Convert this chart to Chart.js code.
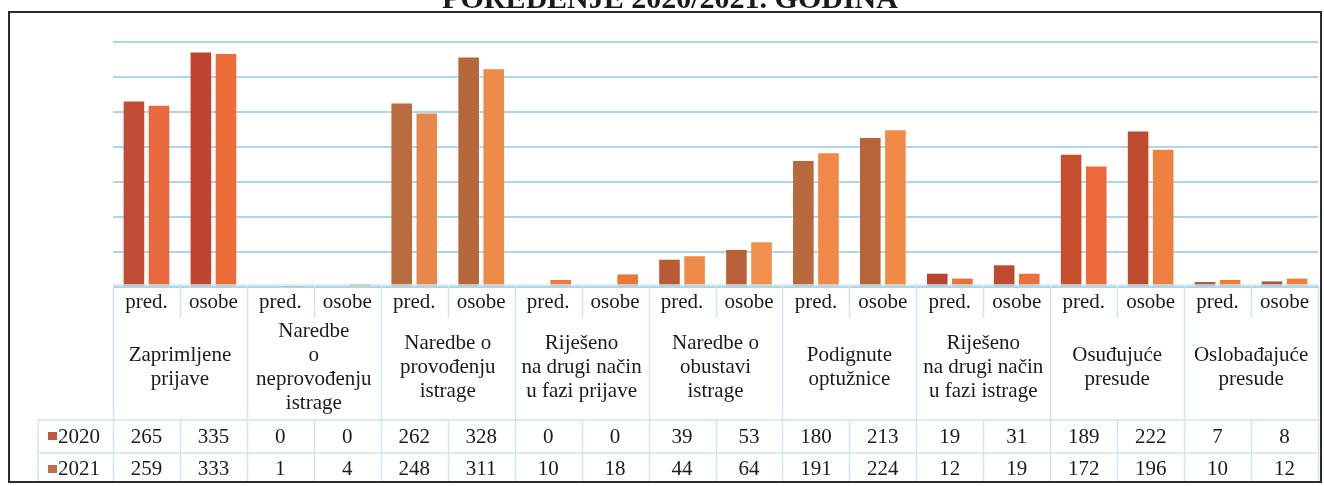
<!DOCTYPE html>
<html>
<head>
<meta charset="utf-8">
<script src="https://cdn.jsdelivr.net/npm/chart.js@4/dist/chart.umd.min.js"></script>
<style>
  html, body { margin: 0; padding: 0; background: #ffffff; }
  #wrap { width: 1324px; height: 486px; }
</style>
</head>
<body>
<div id="wrap"><canvas id="poredjenje"></canvas></div>
<script>
var title = 'POREĐENJE 2020/2021. GODINA';

// kolone: pred. / osobe za svaku grupu
var subLabels = ['pred.', 'osobe', 'pred.', 'osobe', 'pred.', 'osobe', 'pred.', 'osobe', 'pred.', 'osobe',
                 'pred.', 'osobe', 'pred.', 'osobe', 'pred.', 'osobe', 'pred.', 'osobe'];

var groupLabels = [
    ['Zaprimljene', 'prijave'],
    ['Naredbe', 'o', 'neprovođenju', 'istrage'],
    ['Naredbe o', 'provođenju', 'istrage'],
    ['Riješeno', 'na drugi način', 'u fazi prijave'],
    ['Naredbe o', 'obustavi', 'istrage'],
    ['Podignute', 'optužnice'],
    ['Riješeno', 'na drugi način', 'u fazi istrage'],
    ['Osuđujuće', 'presude'],
    ['Oslobađajuće', 'presude']
];

var seriesNames = ['2020', '2021'];
var data2020 = [265, 335, 0, 0, 262, 328, 0, 0, 39, 53, 180, 213, 19, 31, 189, 222, 7, 8];
var data2021 = [259, 333, 1, 4, 248, 311, 10, 18, 44, 64, 191, 224, 12, 19, 172, 196, 10, 12];

// boje stupaca (skenirani original ima malo razlicite nijanse)
var colors2020 = ['#c24c36', '#bf4530', '#b5603a', '#b5603a', '#b86c40', '#b5663a', '#b8603a', '#b8603a', '#b85a35', '#b86038',
                  '#b8693c', '#b8643a', '#b8452e', '#c04a30', '#c64f2e', '#c04a2e', '#a8553a', '#a8553a'];
var colors2021 = ['#e8693e', '#ee6b3a', '#e08040', '#e08040', '#e8874a', '#ee8a48', '#ec7a3a', '#e87a38', '#ee8a4a', '#f0904c',
                  '#f08848', '#f28a48', '#e8703a', '#e8703a', '#ec6a3a', '#ee8040', '#ee7a3a', '#ee803c'];
var legend2020 = '#c0583f';
var legend2021 = '#c86a45';

var serif = '"Liberation Serif", "DejaVu Serif", serif';
var gridBlue = '#a9d8ec';
var tableLine = '#cfe6ef';

// tablica ispod grafa
var tablePlugin = {
    id: 'tablica',
    afterDraw: function(chart) {
	var c = chart.ctx;
	var x = chart.scales.x;
	var area = chart.chartArea;
	var n = subLabels.length;
	var colW = (area.right - area.left) / n;
	var top = area.bottom - 2;
	var rowPredEnd = 318;
	var rowGroupEnd = 420;
	var row1End = 453;
	var bottom = 482;
	var headLeft = 38;

	c.save();
	c.strokeStyle = tableLine;
	c.lineWidth = 1.5;

	// horizontalne linije
	c.beginPath();
	c.moveTo(area.left, top); c.lineTo(area.right, top);
	c.moveTo(headLeft, rowGroupEnd); c.lineTo(area.right, rowGroupEnd);
	c.moveTo(headLeft, row1End); c.lineTo(area.right, row1End);
	c.stroke();

	// vertikalne linije
	c.beginPath();
	c.moveTo(headLeft, rowGroupEnd); c.lineTo(headLeft, bottom);
	for (var i = 0; i <= n; i++) {
	    var lx = Math.round(area.left + i * colW) + 0.5;
	    if (i % 2 === 0) {
		c.moveTo(lx, top); c.lineTo(lx, bottom);
	    } else {
		c.moveTo(lx, top); c.lineTo(lx, rowPredEnd);
		c.moveTo(lx, rowGroupEnd); c.lineTo(lx, bottom);
	    }
	}
	c.stroke();

	c.fillStyle = '#1a1a1a';
	c.textAlign = 'center';
	c.textBaseline = 'middle';
	c.font = '21px ' + serif;

	// pred. / osobe i vrijednosti
	for (var j = 0; j < n; j++) {
	    var cx = x.getPixelForValue(j);
	    c.fillText(subLabels[j], cx, 302);
	    c.fillText(String(data2020[j]), cx, 437);
	    c.fillText(String(data2021[j]), cx, 469);
	}

	// nazivi grupa
	var lh = 24;
	groupLabels.forEach(function(lines, g) {
	    var gx = area.left + (g * 2 + 1) * colW;
	    var y0 = 367 - (lines.length - 1) * lh / 2;
	    lines.forEach(function(t, k) {
		c.fillText(t, gx, y0 + k * lh);
	    });
	});

	// legenda u zaglavlju redova
	c.textAlign = 'left';
	c.fillStyle = legend2020;
	c.fillRect(48, 432, 9, 8);
	c.fillStyle = legend2021;
	c.fillRect(48, 465, 9, 8);
	c.fillStyle = '#1a1a1a';
	c.fillText(seriesNames[0], 58, 437);
	c.fillText(seriesNames[1], 58, 469);

	// okvir
	c.strokeStyle = '#2b2b2b';
	c.lineWidth = 2;
	c.strokeRect(9, 12, 1312, 470);

	// naslov (odrezan na vrhu kao u originalu)
	c.textAlign = 'center';
	c.textBaseline = 'alphabetic';
	c.font = 'bold 30px ' + serif;
	c.fillText(title, 670, 8);
	c.restore();
    }
};

var ctx = document.getElementById('poredjenje');

var chart = new Chart(ctx, {
    type: 'bar',
    data: {
	labels: subLabels,
	datasets: [{
	    label: seriesNames[0],
	    data: data2020,
	    backgroundColor: colors2020,
	    borderWidth: 0
	}, {
	    label: seriesNames[1],
	    data: data2021,
	    backgroundColor: colors2021,
	    borderWidth: 0
	}]
    },
    options: {
	animation: false,
	responsive: true,
	maintainAspectRatio: false,
	categoryPercentage: 0.75,
	barPercentage: 0.82,
	layout: {
	    padding: { left: 113, right: 6, top: 42, bottom: 199 }
	},
	scales: {
	    x: {
		display: false
	    },
	    y: {
		min: 0,
		max: 350,
		ticks: { display: false, stepSize: 50 },
		border: { display: false },
		grid: {
		    color: gridBlue,
		    lineWidth: 2,
		    drawTicks: false
		}
	    }
	},
	plugins: {
	    legend: { display: false },
	    tooltip: { enabled: false },
	    title: { display: false }
	}
    },
    plugins: [tablePlugin]
});
</script>
</body>
</html>
